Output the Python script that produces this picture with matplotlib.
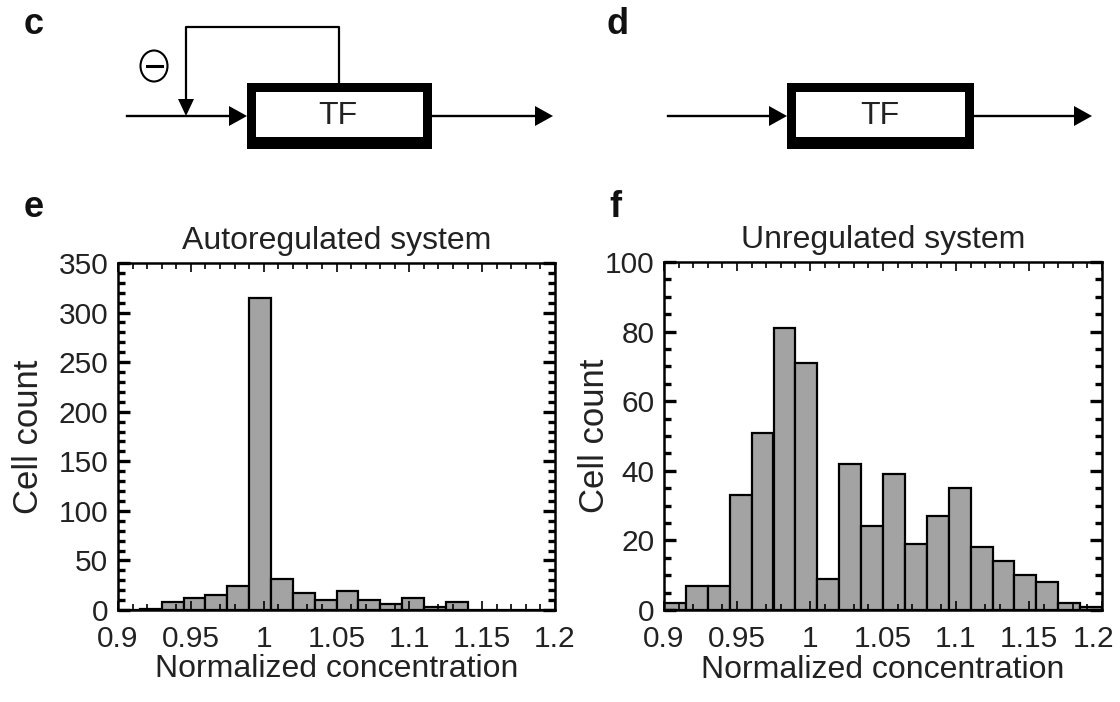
import numpy as np
import matplotlib
matplotlib.use("Agg")
import matplotlib.pyplot as plt
import matplotlib.transforms as mtransforms
from matplotlib.patches import Rectangle, Polygon, Ellipse
from matplotlib.ticker import MultipleLocator, FixedLocator

plt.rcParams['font.family'] = ['Liberation Sans', 'DejaVu Sans']

# histogram data (20 bins of width 0.015 from 0.9 to 1.2)
bin_start = 0.9
bin_width = 0.015
auto_counts = [0, 1, 8, 12, 15, 24, 315, 31, 17, 10, 19, 10, 6, 12, 3, 8, 0, 0, 0, 0]
unreg_counts = [2, 7, 7, 33, 51, 81, 71, 9, 42, 24, 39, 19, 27, 35, 18, 14, 10, 8, 2, 1]
x_ticks = [0.9, 0.95, 1.0, 1.05, 1.1, 1.15, 1.2]
x_tick_labels = ['0.9', '0.95', '1', '1.05', '1.1', '1.15', '1.2']

TICK_FS = 21.5
LABEL_FS = 23
W, H = 1120, 702

fig = plt.figure(figsize=(W / 100, H / 100), dpi=100)
fig.patch.set_facecolor('white')


def px_axes(x0, y0, x1, y1):
    # axes from pixel box (top-left origin)
    return fig.add_axes([x0 / W, 1 - y1 / H, (x1 - x0) / W, (y1 - y0) / H])


def shift_label(lab, dx, dy):
    # move one tick label by a few pixels
    lab.set_transform(lab.get_transform() +
                      mtransforms.ScaledTranslation(dx / 100, dy / 100, fig.dpi_scale_trans))


def histo(ax, counts, ymax, ymajor, yminor, title, ylab_x):
    edges = bin_start + bin_width * np.arange(len(counts))
    ax.bar(edges, counts, width=bin_width, align='edge', color='#a3a3a3',
           edgecolor='black', linewidth=1.6, zorder=1)
    ax.set_xlim(0.9, 1.2)
    ax.set_ylim(0, ymax)
    ax.xaxis.set_major_locator(FixedLocator(x_ticks))
    ax.set_xticklabels(x_tick_labels)
    ax.xaxis.set_minor_locator(MultipleLocator(0.01))
    ax.yaxis.set_major_locator(MultipleLocator(ymajor))
    ax.yaxis.set_minor_locator(MultipleLocator(yminor))
    ax.tick_params(axis='both', which='both', direction='in', top=True, right=True,
                   labelsize=TICK_FS, colors='black')
    ax.tick_params(axis='x', which='major', length=6.5, width=1.2, pad=11)
    ax.tick_params(axis='x', which='minor', length=4, width=1.2)
    ax.tick_params(axis='y', which='major', length=8.5, width=2.4, pad=7)
    ax.tick_params(axis='y', which='minor', length=5, width=2.4)
    for sp in ax.spines.values():
        sp.set_linewidth(1.8)
    ax.set_title(title, fontsize=LABEL_FS, pad=10, color='#222222')
    ax.set_xlabel('Normalized concentration', fontsize=LABEL_FS, color='#222222')
    ax.set_ylabel('Cell count', fontsize=25, color='#222222')
    ax.xaxis.set_label_coords(0.5, -0.128)
    ax.yaxis.set_label_coords(ylab_x, 0.5)
    ax.tick_params(labelcolor='#222222')


ax_e = px_axes(118, 263, 555, 610)
histo(ax_e, auto_counts, 350, 50, 10, 'Autoregulated system', (45 - 118) / 437)

ax_f = px_axes(664, 262, 1102, 610)
histo(ax_f, unreg_counts, 100, 20, 5, 'Unregulated system', (611 - 664) / 438)

fig.canvas.draw()
for ax in (ax_e, ax_f):
    # lift the "0" label a little so it clears "0.9"
    shift_label(ax.yaxis.get_major_ticks()[0].label1, 0, 4)
# keep the last tick label of panel f inside the figure
shift_label(ax_f.xaxis.get_major_ticks()[-1].label1, -8, 0)

# diagram layer in pixel coordinates
dg = fig.add_axes([0, 0, 1, 1], zorder=-1)
dg.set_xlim(0, W)
dg.set_ylim(H, 0)
dg.axis('off')


def tf_box(x0, x1, xc):
    dg.add_patch(Rectangle((x0, 83), x1 - x0, 66, facecolor='black', edgecolor='none'))
    dg.add_patch(Rectangle((x0 + 9, 92), x1 - x0 - 18, 45, facecolor='white', edgecolor='none'))
    dg.text(xc, 116, 'TF', fontsize=23, ha='center', va='center', color='#222222')


def arrow_right(x0, x1, y=116):
    dg.plot([x0, x1 - 10], [y, y], color='black', lw=1.7)
    dg.add_patch(Polygon([(x1 - 18, y - 10), (x1, y), (x1 - 18, y + 10)],
                         closed=True, facecolor='black', edgecolor='none'))


# panel c
tf_box(247, 432, 338)
arrow_right(127, 247)
arrow_right(432, 553)
dg.plot([339, 339, 186, 186], [83, 27, 27, 104], color='black', lw=1.6)
dg.add_patch(Polygon([(178, 99), (194, 99), (186, 116)], closed=True,
                     facecolor='black', edgecolor='none'))
dg.add_patch(Ellipse((154, 66), 27, 31, facecolor='none', edgecolor='black', lw=1.5))
dg.plot([147, 162], [66, 66], color='black', lw=2.2)

# panel letters
for lbl, x, y in [('c', 24, 34), ('d', 607, 34), ('e', 24, 217), ('f', 609, 217)]:
    dg.text(x, y, lbl, fontsize=26, fontweight='heavy', ha='left', va='baseline',
            color='#111111')

# panel d
tf_box(787, 974, 880)
arrow_right(668, 787)
arrow_right(974, 1092)

fig.savefig('out.png', dpi=100)
